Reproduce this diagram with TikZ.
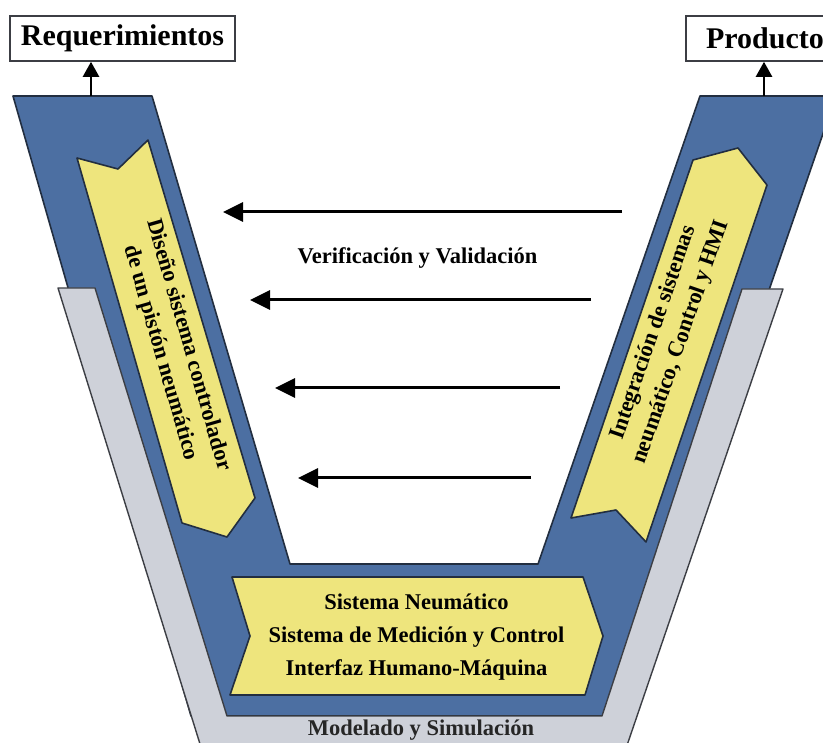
\documentclass[tikz,border=0pt]{standalone}
\usepackage{fontspec}
\setmainfont{Liberation Serif}
\usetikzlibrary{arrows.meta}
\definecolor{vblue}{RGB}{76,111,162}
\definecolor{vyellow}{RGB}{238,229,125}
\definecolor{vgray}{RGB}{206,209,217}
\definecolor{vline}{RGB}{34,46,64}
\definecolor{gline}{RGB}{60,62,68}

\begin{document}
\begin{tikzpicture}[x=1pt,y=-1pt,
  every node/.style={font=\bfseries\fontsize{22.5}{29}\selectfont},
  titlebox/.style={draw=gline,line width=1.6pt,fill=white,minimum height=45pt,
    font=\bfseries\fontsize{30}{34}\selectfont},
  vblock/.style={fill=vblue,draw=vline,line width=1.6pt,line join=round},
  gblock/.style={fill=vgray,draw=gline,line width=1.4pt,line join=round},
  yblock/.style={fill=vyellow,draw=vline,line width=1.6pt,line join=round},
  vvarrow/.style={line width=3pt,-{Triangle[length=20pt,width=19pt]}},
  uparrow/.style={line width=2.4pt,-{Triangle[length=15pt,width=16pt]}}]
	\useasboundingbox (0,0) rectangle (823,743);
	\clip (0,0) rectangle (823,743);
	\fill[white] (0,0) rectangle (823,743);
	\draw[vblock] (13,96) -- (152,96) -- (290,564) -- (538,564) -- (700,96) -- (836,96)
		-- (622,716) -- (191,716) -- cycle;
	\draw[gblock] (58,288) -- (95,288) -- (227,716) -- (602,716) -- (742,289) -- (783,289)
		-- (622,760) -- (205,760) -- cycle;
	\draw[yblock] (77,158) -- (118,169) -- (148,140) -- (255,498) -- (227,537) -- (182,523) -- cycle;
	\draw[yblock] (693,160) -- (738,148) -- (767,185) -- (646,542) -- (616,510) -- (571,518) -- cycle;
	\draw[yblock] (232,577) -- (583,577) -- (603,636) -- (585,695) -- (230,695) -- (250,636) -- cycle;
	\node[titlebox,minimum width=225pt] (req) at (122.5,38.5) {Requerimientos};
	\node[titlebox,minimum width=158pt] (prod) at (765,38.5) {Producto};
	\coordinate (reqfoot) at (91,96);
	\coordinate (prodfoot) at (764,96);
	\draw[uparrow] (reqfoot) -- (reqfoot |- req.south);
	\draw[uparrow] (prodfoot) -- (prodfoot |- prod.south);
	\node[rotate=-74,align=center] (diseno) at (174.5,349) {Diseño sistema controlador\\de un pistón neumático};
	\node[rotate=71,align=center] (integ) at (667.5,337.5) {Integración de sistemas\\neumático, Control y HMI};
	\node[align=center,font=\bfseries\fontsize{22.5}{33}\selectfont] (sist) at (416.5,637)
		{Sistema Neumático\\Sistema de Medición y Control\\Interfaz Humano-Máquina};
	\node[text=black!85] (model) at (421,730) {Modelado y Simulación};
	\node (vv) at (417.5,258) {Verificación y Validación};
	\coordinate (vs1) at (622,212);
	\coordinate (ve1) at (223,212);
	\coordinate (vs2) at (591,300);
	\coordinate (ve2) at (250,300);
	\coordinate (vs3) at (560,388);
	\coordinate (ve3) at (275,388);
	\coordinate (vs4) at (531,478);
	\coordinate (ve4) at (298,478);
	\draw[vvarrow] (vs1) -- (ve1);
	\draw[vvarrow] (vs2) -- (ve2);
	\draw[vvarrow] (vs3) -- (ve3);
	\draw[vvarrow] (vs4) -- (ve4);
\end{tikzpicture}
\end{document}
